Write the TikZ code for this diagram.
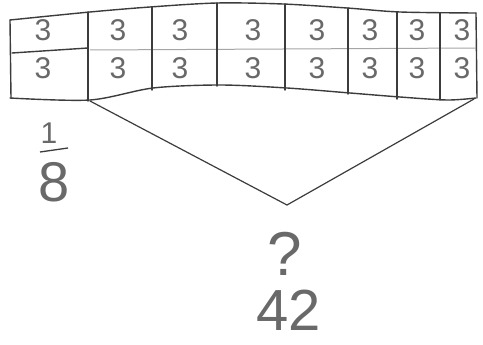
\documentclass[tikz,border=0pt]{standalone}
\usepackage{fontspec}
\setmainfont{Liberation Sans}
\usepackage{tikz}
\usetikzlibrary{positioning}
\usetikzlibrary{calc}
\definecolor{pencil}{RGB}{60,60,60}
\definecolor{lightpencil}{RGB}{105,105,105}
\tikzset{
  tape/.style={pencil,line width=1.4pt,line join=round,line cap=round},
  num/.style={lightpencil,font=\fontsize{30}{30}\selectfont,inner sep=0pt},
  big/.style={lightpencil,inner sep=0pt,anchor=south}
}

\begin{document}
\begin{tikzpicture}[x=1pt,y=-1pt]
  \useasboundingbox[fill=white] (0,0) rectangle (483,345);
  % outline of the tape (wavy top and bottom edges)
  \draw[tape] plot[smooth,tension=0.5] coordinates
    {(10,20) (90,12) (150,7) (217,3) (283,4) (347,8) (400,12) (476,13)};
  \draw[tape] plot[smooth,tension=0.5] coordinates
    {(10,98) (90,100) (153,88) (220,85) (287,88) (350,93) (400,97) (447,100) (476,98)};
  \draw[tape] (10,20) -- (11,98); \draw[tape] (476,13) -- (477,98);
  % the two rows
  \draw[tape] (12,53) -- (88,48);
  \draw[lightpencil!60,line width=1pt] (90,50) -- (476,48);
  % the eight parts
  \foreach \x/\ya/\yb in {88/12/101,152/7/90,217/3/86,285/4/90,348/8/94,397/12/99,440/13/100}
    \draw[tape] (\x,\ya) -- (\x,\yb);
  \foreach \x [count=\i] in {43,118,180,253,317,370,417,462}{
    \node[num] (top\i) at (\x,30) {3};
    \node[num] (bot\i) at (\x,68) {3};
  }
  % brace under the seven parts
  \coordinate (brL) at (90,101);
  \coordinate (brV) at (287,205);
  \coordinate (brR) at (474,99);
  \draw[tape,line width=1.2pt] (brL) -- (brV) -- (brR);
  % the fraction
  \node[big,font=\fontsize{30}{30}\selectfont] (one) at (49,144) {1};
  \node[big,font=\fontsize{56}{56}\selectfont] (eight) at (54,202) {8};
  \draw[pencil,line width=1.3pt] (40,152) -- (68,148);
  % unknown and total
  \node[big,font=\fontsize{62}{62}\selectfont] (what) at (285,276) {?};
  \node[big,font=\fontsize{58}{58}\selectfont] (total) at (289,331) {42};
\end{tikzpicture}
\end{document}
